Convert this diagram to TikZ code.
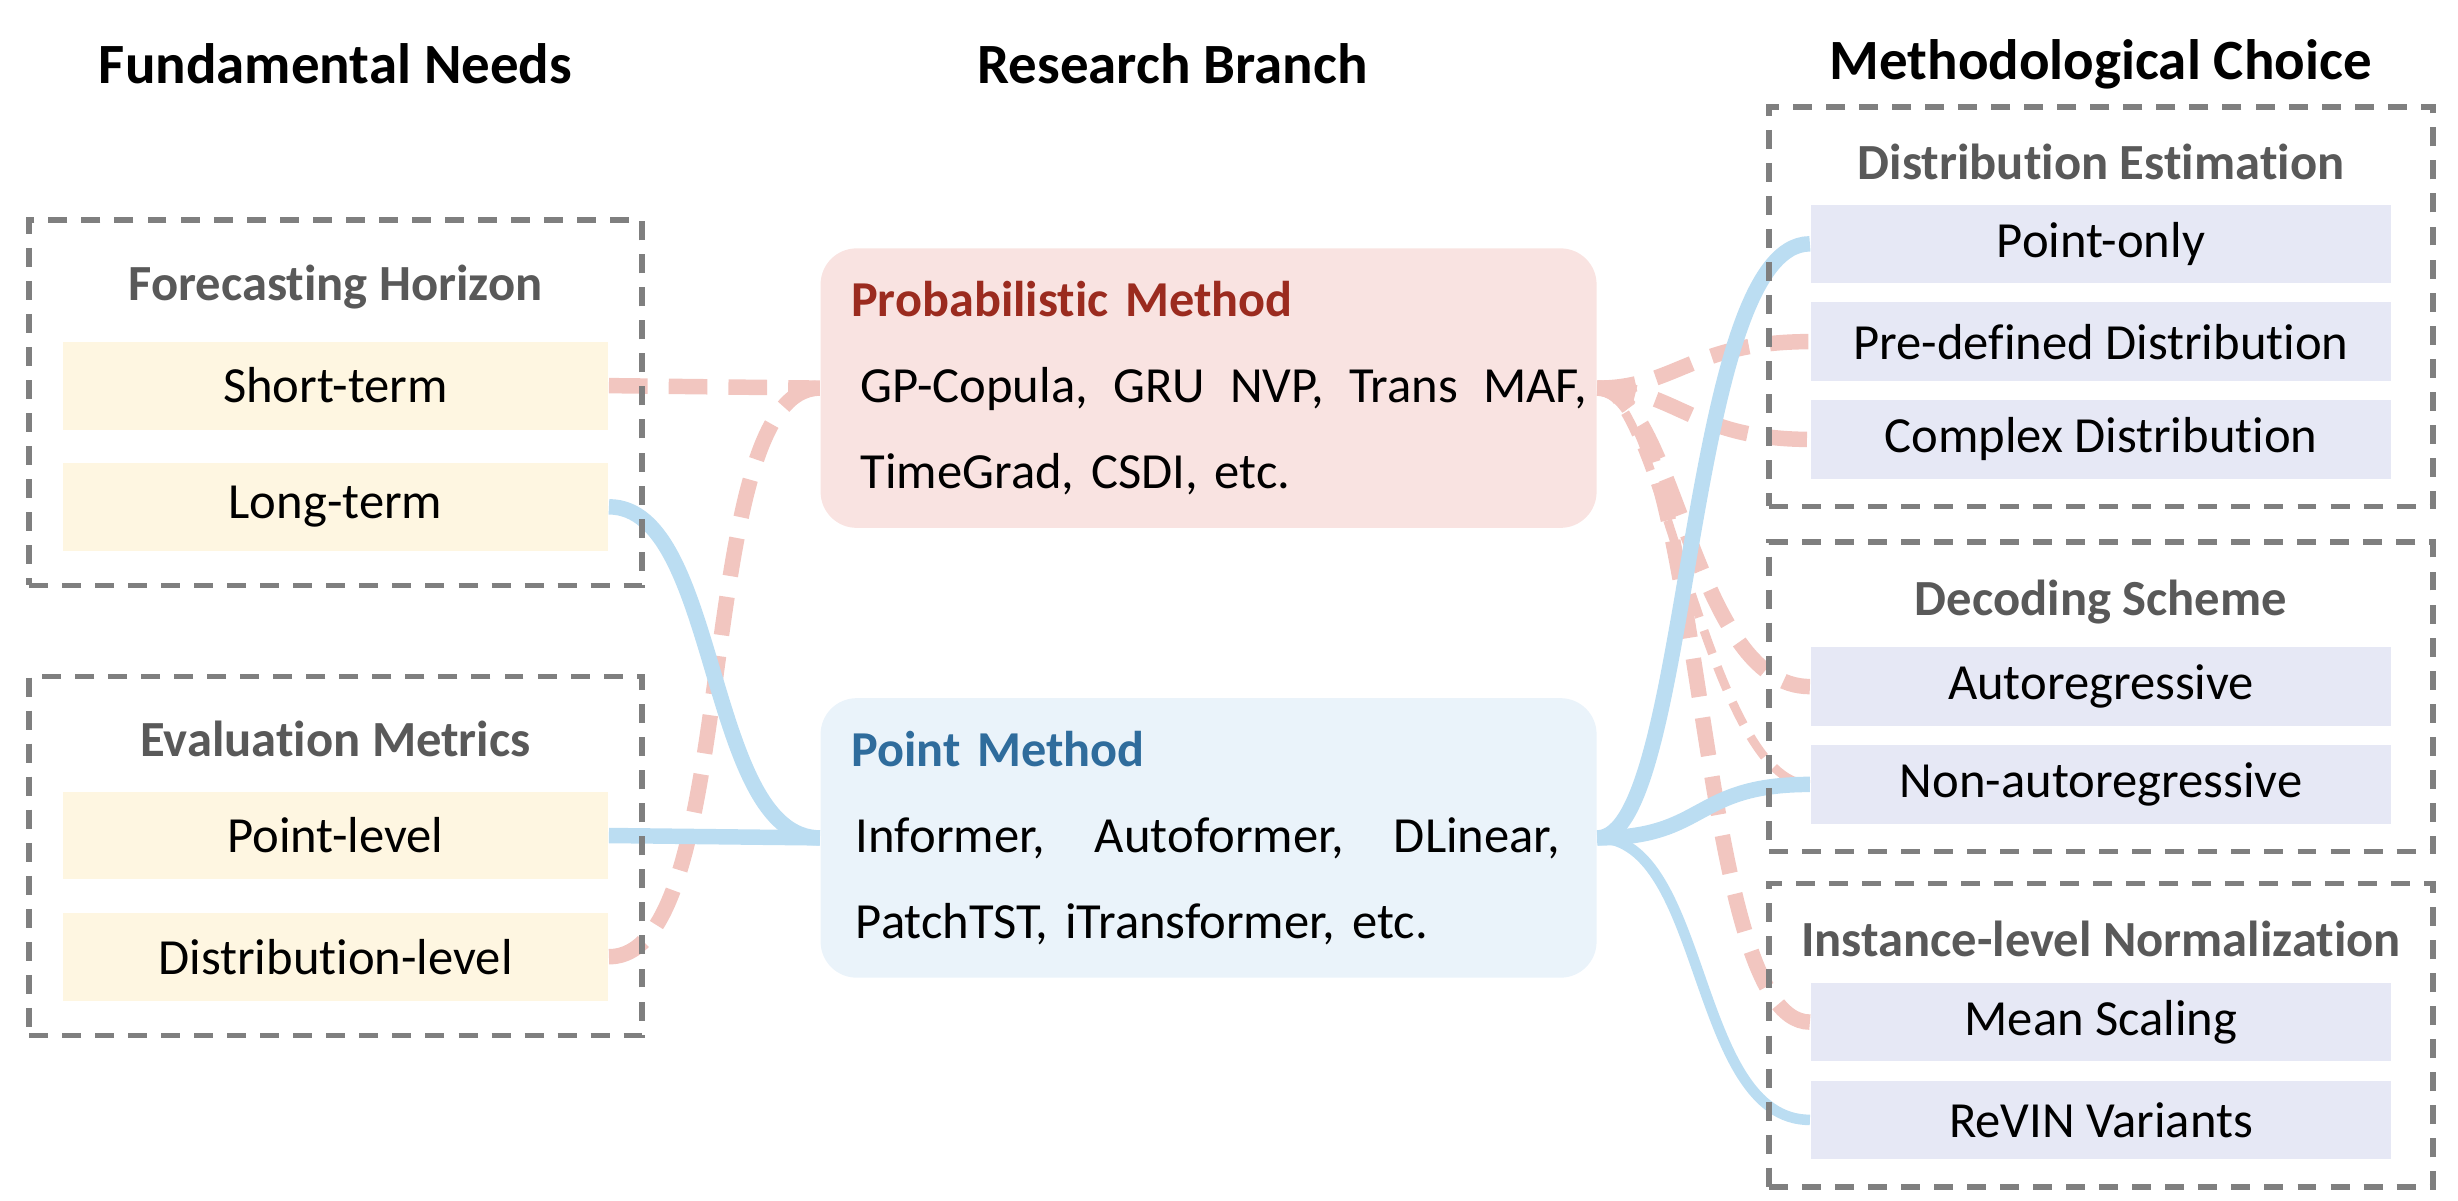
\documentclass[tikz,border=0pt]{standalone}
\usepackage{fontspec}
\setmainfont{Carlito}[Ligatures=NoCommon]
\usepackage{tikz}
\usetikzlibrary{positioning,fit,backgrounds}
\definecolor{needfill}{HTML}{FEF6E1}
\definecolor{optfill}{HTML}{E6E8F5}
\definecolor{probfill}{HTML}{F9E3E1}
\definecolor{pntfill}{HTML}{EAF3FA}
\definecolor{probtxt}{HTML}{9B2B1F}
\definecolor{pnttxt}{HTML}{2F6C9C}
\definecolor{ttlgray}{HTML}{595959}
\definecolor{framegray}{HTML}{7F7F7F}
\definecolor{lineblue}{HTML}{BBDDF2}
\definecolor{linered}{HTML}{F2C6C0}
\tikzset{
  hd/.style={font=\fontsize{16.2}{19}\selectfont\bfseries},
  ttl/.style={font=\fontsize{14.4}{17}\selectfont\bfseries, text=ttlgray, inner xsep=0pt, inner ysep=0.1cm},
  need/.style={fill=needfill, minimum width=5.455cm, minimum height=0.878cm, inner sep=0pt, font=\fontsize{14.4}{17}\selectfont},
  opt/.style={fill=optfill, minimum width=5.808cm, minimum height=0.784cm, inner sep=0pt, font=\fontsize{14.4}{17}\selectfont},
  grp/.style={draw=framegray, line width=1.6pt, dash pattern=on 5.4pt off 4pt},
  br/.style={rounded corners=0.36cm, text width=7.76cm, minimum height=2.795cm, inner xsep=0pt, align=left, font=\fontsize{14.4}{24.5}\selectfont},
  bl/.style={draw=lineblue, line width=4.4pt},
  rd/.style={draw=linered, line width=4.4pt, dash pattern=on 11pt off 6pt},
  rdthin/.style={draw=linered, line width=2.5pt, dash pattern=on 7pt off 4pt}
}
\begin{document}
\begin{tikzpicture}[node distance=0.32cm]
  \useasboundingbox (0,0) rectangle (24.58,-12.0);
  % column heads
  \node[hd] (h1) at (3.355,-0.64) {Fundamental Needs};
  \node[hd] (h2) at (11.726,-0.64) {Research Branch};
  \node[hd] (h3) at (21.006,-0.64) {Methodological Choice};
  % fundamental needs
  \node[ttl] (fh) at (3.355,-2.869) {Forecasting Horizon};
  \node[need] (st) at (3.355,-3.856) {Short-term};
  \node[need, below=of st] (lt) {Long-term};
  \node[ttl] (em) at (3.355,-7.391) {Evaluation Metrics};
  \node[need] (pv) at (3.355,-8.355) {Point-level};
  \node[need, below=of pv] (dv) {Distribution-level};
  \node[grp, fit=(fh.north)(st)(lt), inner xsep=0.33cm, inner ysep=0.34cm] (g1) {};
  \node[grp, fit=(em.north)(pv)(dv), inner xsep=0.33cm, inner ysep=0.34cm] (g2) {};
  % research branch
  \node[br, fill=probfill] (prob) at (12.086,-3.881) {{\color{probtxt}\bfseries\fontsize{14.3}{24.5}\selectfont\hspace*{0.306cm}Probabilistic Method}\\
    \hspace*{0.40cm}\hbox to 7.26cm{GP-Copula,\hfil GRU\hfil NVP,\hfil Trans\hfil MAF,}\\
    \hspace*{0.40cm}TimeGrad, CSDI, etc.};
  \node[br, fill=pntfill] (pnt) at (12.086,-8.379) {{\color{pnttxt}\bfseries\fontsize{14.3}{24.5}\selectfont\hspace*{0.306cm}Point Method}\\
    \hspace*{0.353cm}\hbox to 7.04cm{Informer,\hfill Autoformer,\hfill DLinear,}\\
    \hspace*{0.353cm}PatchTST, iTransformer, etc.};
  % methodological choice
  \node[ttl] (de) at (21.01,-1.624) {Distribution Estimation};
  \node[opt] (po) at (21.01,-2.438) {Point-only};
  \node[opt, below=0.18cm of po] (pd) {Pre-defined Distribution};
  \node[opt, below=0.18cm of pd] (cd) {Complex Distribution};
  \node[ttl] (ds) at (21.01,-6.02) {Decoding Scheme};
  \node[opt] (ar) at (21.01,-6.866) {Autoregressive};
  \node[opt, below=0.18cm of ar] (na) {Non-autoregressive};
  \node[ttl] (inl) at (21.01,-9.39) {Instance-level Normalization};
  \node[opt] (ms) at (21.01,-10.221) {Mean Scaling};
  \node[opt, below=0.18cm of ms] (rv) {ReVIN Variants};
  \node[grp, fit=(de.north)(po)(pd)(cd), inner xsep=0.41cm, inner ysep=0.27cm] (g3) {};
  \node[grp, fit=(ds.north)(ar)(na), inner xsep=0.41cm, inner ysep=0.27cm] (g4) {};
  \node[grp, fit=(inl.north)(ms)(rv), inner xsep=0.41cm, inner ysep=0.27cm] (g5) {};
  % links
  \begin{scope}[on background layer]
    \draw[rd] (st.east) -- (prob.west);
    \draw[rd] (dv.east) .. controls +(1.35,0) and +(-1.3,0) .. (prob.west);
    \draw[bl] (lt.east) .. controls +(1.11,0) and +(-1.14,0) .. (pnt.west);
    \draw[bl] (pv.east) -- (pnt.west);
    \draw[rd] (prob.east) .. controls +(0.78,0) and +(-1.18,0) .. (pd.west);
    \draw[rd] (prob.east) .. controls +(0.78,0) and +(-1.18,0) .. (cd.west);
    \draw[rd] (prob.east) .. controls +(0.78,0) and +(-1.18,0) .. (ar.west);
    \draw[rdthin] (prob.east) .. controls +(0.63,0) and +(-1.02,0) .. (na.west);
    \draw[rd] (prob.east) .. controls +(1.1,0) and +(-1.18,0) .. (ms.west);
    \draw[bl] (pnt.east) .. controls +(0.94,0) and +(-1.25,0) .. (po.west);
    \draw[bl] (pnt.east) .. controls +(1.1,0) and +(-1.18,0) .. (na.west);
    \draw[bl, line width=3pt] (pnt.east) .. controls +(1.1,0) and +(-1.18,0) .. (rv.west);
  \end{scope}
\end{tikzpicture}
\end{document}
